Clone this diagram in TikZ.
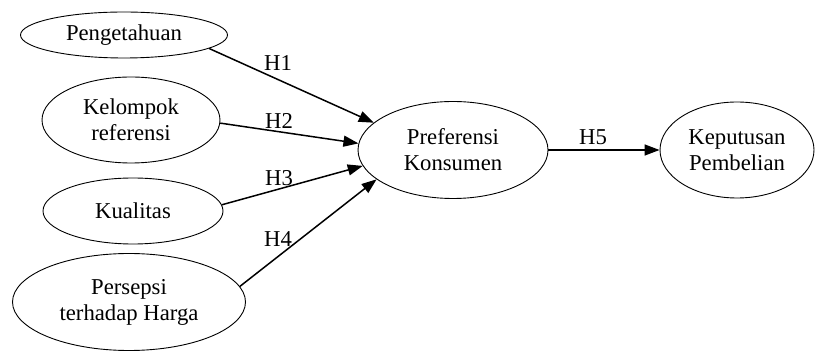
\documentclass[tikz,border=0pt]{standalone}
\usepackage{fontspec}
\setmainfont{Liberation Serif}
\usetikzlibrary{shapes.geometric,arrows.meta}
\begin{document}
\begin{tikzpicture}[x=1pt,y=1pt,
  ell/.style={ellipse,draw,line width=0.9pt,inner sep=0pt,align=center,
    font=\fontsize{22.7}{26}\selectfont},
  conn/.style={line width=1.5pt,-{Triangle[length=15pt,width=11pt]}},
  hlab/.style={font=\fontsize{22.7}{26}\selectfont,inner sep=0pt}]
\useasboundingbox (0,0) rectangle (824,353);
\node[ell,minimum width=207pt,minimum height=46pt] (peng) at (124,318) {Pengetahuan};
\node[ell,minimum width=178pt,minimum height=86pt] (kel) at (131,233) {Kelompok\\referensi};
\node[ell,minimum width=180pt,minimum height=66pt] (kual) at (133,142) {Kualitas};
\node[ell,minimum width=233pt,minimum height=97pt] (pers) at (129,51) {Persepsi\\terhadap Harga};
\node[ell,minimum width=190pt,minimum height=97pt] (pref) at (453,203) {Preferensi\\Konsumen};
\node[ell,minimum width=154pt,minimum height=96pt] (kep) at (737,203) {Keputusan\\Pembelian};
\draw[conn] (peng.-9) -- (pref.161);
\draw[conn] (kel.-2) -- (pref.176);
\draw[conn] (kual.4) -- (pref.-170);
\draw[conn] (pers.8) -- (pref.-159);
\draw[conn] (pref.east) -- (kep.west);
\node[hlab] (h1) at (278,290) {H1};
\node[hlab] (h2) at (279,232) {H2};
\node[hlab] (h3) at (279,175) {H3};
\node[hlab] (h4) at (278,114) {H4};
\node[hlab] (h5) at (593,216) {H5};
\end{tikzpicture}
\end{document}
